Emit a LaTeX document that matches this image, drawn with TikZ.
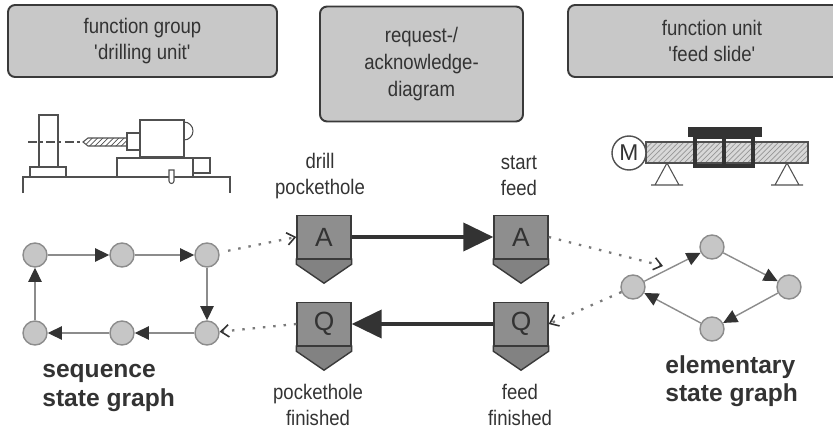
\documentclass[tikz,border=0pt]{standalone}
\usepackage{fontspec}
\setsansfont{Liberation Sans}
\newfontfamily\narrowsans[FakeStretch=0.88]{Liberation Sans}
\usetikzlibrary{arrows.meta,calc,patterns,positioning}

\definecolor{boxgray}{HTML}{C8C8C8}
\definecolor{edgedark}{HTML}{3A3A3A}
\definecolor{textdark}{HTML}{333333}
\definecolor{ackgray}{HTML}{8E8E8E}
\definecolor{ackdark}{HTML}{828282}
\definecolor{stategray}{HTML}{C6C6C6}
\definecolor{stateedge}{HTML}{8C8C8C}
\definecolor{dotgray}{HTML}{7A7A7A}
\definecolor{mechgray}{HTML}{505050}
\definecolor{barfill}{HTML}{D8D8D8}

\newcommand{\lblfont}{\narrowsans\fontsize{12}{14.5}\selectfont}

\begin{document}
\begin{tikzpicture}[
    x=0.02cm, y=-0.02cm,
    >=Stealth,
    headbox/.style={draw=edgedark, fill=boxgray, line width=1.1pt, rounded corners=4pt, align=center, font=\lblfont, text=textdark},
    ackbox/.style={draw=edgedark, fill=ackgray, line width=0.8pt, minimum width=1.08cm, minimum height=0.86cm, inner sep=0pt, font=\sffamily\fontsize{15}{15}\selectfont, text=textdark},
    lbl/.style={align=center, font=\lblfont, text=textdark, inner sep=0pt},
    graphlbl/.style={align=left, font=\sffamily\bfseries\fontsize{14}{16}\selectfont, text=textdark, inner sep=0pt, anchor=west},
    state/.style={circle, draw=stateedge, fill=stategray, line width=0.8pt, minimum size=0.48cm, inner sep=0pt},
    trans/.style={draw=stateedge, line width=0.8pt, -{Triangle[length=8pt, width=7.5pt, color=textdark]}},
    handshake/.style={draw=textdark, line width=2.3pt, -{Triangle[length=0.6cm, width=0.56cm]}},
    signal/.style={draw=dotgray, line width=1.3pt, dash pattern=on 1.4pt off 4.5pt, -{Straight Barb[length=4.5pt, width=7pt, line width=0.9pt, color=textdark]}},
    mech/.style={draw=mechgray, line width=0.6pt}
]
    \clip (0,0) rectangle (833,436);

    % headings
    \node[headbox, minimum width=5.38cm, minimum height=1.44cm] (group) at (142.5,41) {function group\\\textquotesingle drilling unit\textquotesingle};
    \node[headbox, minimum width=4.06cm, minimum height=2.3cm, font=\narrowsans\fontsize{12}{15.5}\selectfont] (diagram) at (421.5,64) {request-/\\acknowledge-\\diagram};
    \node[headbox, minimum width=5.76cm, minimum height=1.44cm] (unit) at (712,41) {function unit\\\textquotesingle feed slide\textquotesingle};

    % drilling unit
    \draw[mech] (39,115) rectangle (58,167);
    \draw[mech] (30,167) rectangle (66,177);
    \draw[mech] (23,193) -- (23,177) -- (230,177) -- (230,193);
    \draw[mech] (117,158) rectangle (193,177);
    \draw[mech] (193,158) rectangle (210,173);
    \draw[mech, fill=white] (169,170) -- (169,181) arc[start angle=180, end angle=0, radius=2.5] -- (174,170) -- cycle;
    \draw[mech] (140,120) rectangle (184,157);
    \draw[mech] (184,122) arc[start angle=-90, end angle=90, radius=9];
    \draw[mech] (127,133) rectangle (140,150);
    \draw[mech, pattern=north east lines, pattern color=mechgray] (83,142) -- (88,138) -- (127,138) -- (127,146) -- (88,146) -- cycle;
    \draw[mech, dash pattern=on 5pt off 2pt on 1.5pt off 2pt] (28,142) -- (82,142);

    % feed slide
    \draw[mech, preaction={fill=barfill}, pattern=north east lines, pattern color=mechgray!60] (646,142) rectangle (808,163);
    \node[circle, draw=mechgray, fill=white, line width=0.8pt, minimum size=0.68cm, inner sep=0pt, font=\sffamily\fontsize{13}{13}\selectfont, text=textdark] (motor) at (629,153) {M};
    \fill[textdark] (688,127) rectangle (762,137);
    \draw[textdark, line width=2.3pt] (695,137) rectangle (753,166) (724,137) -- (724,166);
    \foreach \sx in {667,787}
        \draw[mech] (\sx,163) -- (\sx-12,185) -- (\sx+12,185) -- cycle (\sx-16,185) -- (\sx+16,185);

    % sequence state graph
    \node[state] (s1) at (35,255) {};
    \node[state] (s2) at (122,255) {};
    \node[state] (s3) at (207,255) {};
    \node[state] (s4) at (207,333) {};
    \node[state] (s5) at (122,333) {};
    \node[state] (s6) at (35,333) {};
    \draw[trans] (s1) -- (s2);
    \draw[trans] (s2) -- (s3);
    \draw[trans] (s3) -- (s4);
    \draw[trans] (s4) -- (s5);
    \draw[trans] (s5) -- (s6);
    \draw[trans] (s6) -- (s1);
    \node[graphlbl] (seqLbl) at (42,388) {sequence\\state graph};

    % elementary state graph
    \node[state] (e1) at (633,287) {};
    \node[state] (e2) at (712,247) {};
    \node[state] (e3) at (789,287) {};
    \node[state] (e4) at (712,329) {};
    \draw[trans] (e1) -- (e2);
    \draw[trans] (e2) -- (e3);
    \draw[trans] (e3) -- (e4);
    \draw[trans] (e4) -- (e1);
    \node[graphlbl] (elemLbl) at (665,381) {elementary\\state graph};

    % request / acknowledge
    \node[ackbox] (reqA) at (324,237) {A};
    \node[ackbox] (ackA) at (521,237) {A};
    \node[ackbox] (reqQ) at (324,324) {Q};
    \node[ackbox] (ackQ) at (521,324) {Q};
    \foreach \n in {reqA,ackA,reqQ,ackQ}
        \draw[draw=edgedark, fill=ackdark, line width=0.8pt] (\n.south west) -- ($(\n.south west)+(0,5)$) -- ($(\n.south)+(0,24)$) -- ($(\n.south east)+(0,5)$) -- (\n.south east) -- cycle;

    \node[lbl] (drillLbl) at (320,176) {drill\\pockethole};
    \node[lbl] (startLbl) at (519,176) {start\\feed};
    \node[lbl] (holeLbl) at (318,405) {pockethole\\finished};
    \node[lbl] (feedLbl) at (520,405) {feed\\finished};

    \draw[handshake] (reqA.east) -- (ackA.west);
    \draw[handshake] (ackQ.west) -- (reqQ.east);

    \coordinate (trigger) at (663,266);
    \draw[signal, shorten <=5pt] (s3) -- (reqA.west);
    \draw[signal] (reqQ.west) -- (s4);
    \draw[signal] (ackA.east) -- (trigger);
    \draw[signal] (e1) -- (ackQ.east);
\end{tikzpicture}
\end{document}
